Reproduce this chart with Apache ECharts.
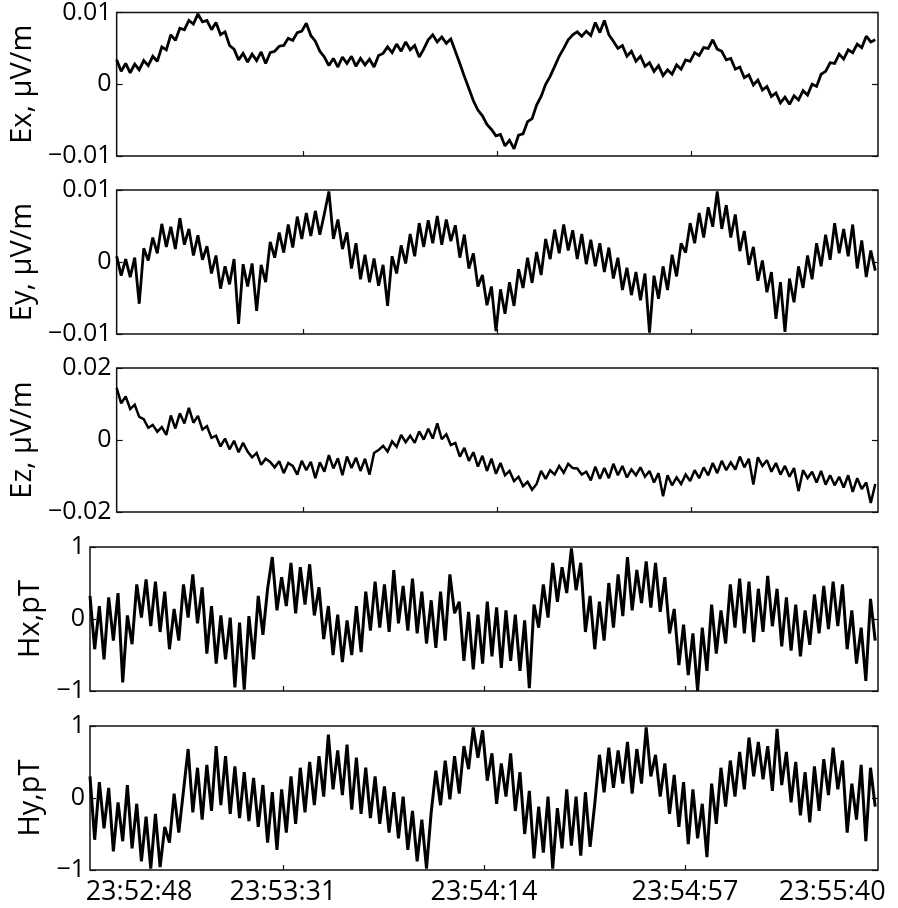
<!DOCTYPE html>
<html>
<head>
<meta charset="utf-8">
<script src="https://cdn.jsdelivr.net/npm/echarts@6/dist/echarts.min.js"></script>
<style>
  html, body { margin: 0; padding: 0; background: #fff; }
  #chart { width: 898px; height: 908px; }
</style>
</head>
<body>
<div id="chart"></div>
<script>
// time in seconds from the left edge of the plot, one sample per second
var tickPos = [41.3, 84.3, 127.3];
var labelPos = [10.5, 41.3, 84.3, 127.3, 158.8];
var tickLabels = ["23:52:48", "23:53:31", "23:54:14", "23:54:57", "23:55:40"];

// Ex, Ey, Ez in units of 0.001 uV/m
var exMilli = [3.4,1.8,2.9,1.6,2.8,2.0,3.3,2.6,3.9,3.2,
  5.2,4.8,6.9,6.1,7.8,7.6,8.9,8.4,9.8,8.7,
  8.9,7.6,8.6,6.9,7.3,5.4,4.9,3.4,4.3,3.1,
  4.2,3.3,4.5,2.9,4.4,4.6,5.3,5.4,6.4,6.1,
  7.2,7.4,8.5,6.8,6.0,4.6,3.8,2.6,3.6,2.4,
  3.8,2.9,3.9,2.5,3.6,2.7,3.5,2.4,4.0,4.3,
  5.2,4.4,5.6,4.6,5.9,4.8,5.4,3.8,4.9,6.2,
  6.9,5.9,6.6,5.7,6.3,4.6,2.9,1.1,-0.6,-2.3,
  -3.6,-4.4,-5.6,-6.3,-7.2,-7.0,-8.6,-7.8,-9.0,-7.1,
  -6.9,-5.2,-4.8,-2.9,-1.7,0.0,1.1,2.5,3.9,5.0,
  6.2,6.9,7.3,6.7,7.4,6.8,8.6,7.2,8.9,6.9,
  6.0,5.0,5.4,3.9,4.6,3.2,3.9,2.5,3.0,1.8,
  2.6,1.2,2.0,1.4,2.7,2.1,3.4,3.2,4.4,4.0,
  5.1,5.0,6.2,4.9,4.6,3.4,3.6,2.1,2.4,0.9,
  1.3,-0.1,0.6,-0.8,-0.3,-1.7,-1.2,-2.6,-1.8,-2.8,
  -1.6,-2.2,-0.9,-1.5,0.0,-0.3,1.4,1.8,3.0,2.9,
  4.2,3.5,4.8,4.4,5.6,5.1,6.7,5.9,6.2];

var eyMilli = [0.8,-1.9,0.4,-2.1,0.6,-5.8,1.9,0.2,3.4,1.2,
  5.3,2.1,4.9,1.8,6.1,2.4,4.6,0.9,3.7,0.3,
  2.2,-1.6,0.9,-3.7,-0.6,-3.1,0.4,-8.6,-0.3,-3.4,
  -0.2,-6.8,-0.4,-2.8,2.8,0.6,4.1,1.3,5.2,2.0,
  6.3,3.2,6.8,3.6,7.1,3.8,6.7,9.8,3.2,5.9,
  1.8,4.1,-0.9,2.6,-2.4,1.0,-2.8,0.5,-3.3,-0.4,
  -6.1,0.8,-1.6,2.3,-0.2,3.9,0.8,5.4,2.1,5.8,
  2.6,6.4,2.4,5.9,2.9,5.1,0.6,3.8,-0.9,1.2,
  -3.4,-1.8,-6.0,-3.4,-9.6,-3.8,-7.2,-2.8,-6.1,-1.0,
  -3.6,0.6,-2.9,1.4,-1.8,3.2,0.4,4.5,1.2,5.2,
  1.6,4.4,0.4,3.9,-0.3,3.1,-0.6,2.6,-1.4,2.0,
  -2.3,0.6,-3.9,-0.8,-4.6,-1.4,-5.3,-1.6,-9.8,-1.9,
  -5.1,-0.6,-3.9,1.0,-2.0,2.6,1.3,5.4,2.6,6.8,
  3.4,7.6,4.9,9.8,4.6,7.9,3.4,6.6,1.5,4.3,
  -0.4,2.1,-2.6,0.2,-4.2,-1.4,-7.9,-2.8,-9.7,-2.3,
  -5.6,-0.6,-3.6,0.9,-2.4,2.6,-0.6,3.8,0.3,5.4,
  1.2,4.6,0.8,5.2,-0.9,3.0,-2.1,1.6,-1.2];

var ezMilli = [14.5,10.2,12.1,8.6,9.8,6.4,5.8,3.4,4.2,2.3,
  3.6,1.4,6.8,3.2,7.4,4.6,8.9,4.8,6.7,2.9,
  3.8,0.6,1.2,-1.8,0.4,-2.6,-0.2,-3.4,-0.8,-3.2,
  -4.8,-3.6,-6.9,-5.2,-6.1,-7.6,-5.9,-9.2,-6.4,-7.2,
  -9.6,-5.8,-8.4,-6.1,-10.6,-6.2,-8.8,-4.2,-7.9,-5.1,
  -9.8,-4.6,-7.8,-4.9,-8.6,-5.2,-9.6,-3.6,-2.8,-1.6,
  -3.2,-0.4,-1.9,1.4,-0.6,1.2,-0.8,2.4,0.1,3.1,
  0.4,4.6,0.2,1.6,-1.4,-0.8,-4.6,-2.2,-5.8,-3.4,
  -7.4,-4.4,-8.6,-5.2,-9.4,-6.4,-9.8,-8.6,-11.4,-10.2,
  -12.8,-11.6,-13.8,-12.2,-8.6,-10.8,-8.4,-9.6,-7.2,-9.1,
  -6.6,-7.8,-7.9,-9.6,-8.8,-11.2,-7.4,-10.8,-7.8,-10.6,
  -6.6,-9.8,-7.2,-10.4,-8.2,-9.8,-7.6,-10.2,-8.6,-11.8,
  -9.2,-15.6,-9.8,-12.6,-10.4,-12.2,-9.6,-11.4,-8.4,-10.6,
  -7.6,-9.8,-6.4,-9.2,-5.8,-8.4,-6.2,-8.2,-4.6,-7.6,
  -5.2,-12.4,-4.8,-7.2,-5.6,-8.8,-6.4,-9.6,-7.2,-10.2,
  -7.8,-14.2,-8.4,-10.6,-8.8,-11.8,-8.6,-12.4,-9.8,-12.6,
  -10.2,-13.2,-9.8,-14.4,-10.6,-13.6,-11.8,-17.5,-12.2];

// Hx, Hy in pT
var hx = [0.32,-0.42,0.18,-0.56,0.3,-0.3,0.36,-0.88,0.05,-0.35,
  0.48,0.02,0.55,-0.1,0.52,-0.18,0.38,-0.42,0.14,-0.3,
  0.48,0.02,0.62,-0.06,0.44,-0.48,0.18,-0.62,0.05,-0.56,
  0.02,-0.95,-0.05,-0.98,0.04,-0.56,0.32,-0.22,0.42,0.86,
  0.12,0.58,0.18,0.78,0.08,0.72,0.2,0.76,0.05,0.44,
  -0.28,0.18,-0.5,0.06,-0.6,-0.02,-0.5,0.18,-0.46,0.38,
  -0.16,0.52,-0.12,0.48,-0.18,0.68,-0.06,0.46,-0.16,0.56,
  -0.2,0.38,-0.34,0.26,-0.4,0.38,-0.3,0.62,0.08,0.24,
  -0.58,0.1,-0.7,0.06,-0.62,0.24,-0.52,0.16,-0.68,0.12,
  -0.58,0.06,-0.72,-0.02,-0.96,0.2,-0.12,0.48,0.02,0.78,
  0.24,0.72,0.36,0.98,0.4,0.78,-0.18,0.32,-0.42,0.24,
  -0.3,0.5,-0.12,0.62,0.04,0.86,0.12,0.68,0.22,0.8,
  0.16,0.78,0.1,0.58,-0.2,0.14,-0.64,-0.08,-0.78,-0.2,
  -1.0,-0.12,-0.72,0.2,-0.48,0.12,-0.34,0.48,-0.12,0.56,
  -0.2,0.52,-0.32,0.42,-0.18,0.6,-0.1,0.42,-0.38,0.3,
  -0.44,0.2,-0.52,0.12,-0.36,0.34,-0.2,0.46,-0.14,0.52,
  -0.1,0.48,-0.42,0.12,-0.62,-0.12,-0.86,0.28,-0.3];

var hy = [0.3,-0.58,0.22,-0.42,0.14,-0.74,-0.06,-0.6,0.18,-0.7,
  -0.08,-0.88,-0.26,-0.98,-0.22,-0.96,-0.4,-0.62,0.06,-0.48,
  0.1,0.68,-0.2,0.42,-0.3,0.46,-0.18,0.72,-0.1,0.58,
  -0.22,0.44,-0.28,0.36,-0.32,0.28,-0.4,0.18,-0.62,0.08,
  -0.72,0.12,-0.48,0.3,-0.36,0.42,-0.2,0.5,-0.1,0.58,
  0.02,0.88,0.12,0.66,0.04,0.74,-0.16,0.56,-0.22,0.42,
  -0.28,0.3,-0.36,0.16,-0.48,0.08,-0.56,0.02,-0.72,-0.18,
  -0.88,-0.3,-0.98,-0.2,0.38,-0.1,0.52,-0.02,0.58,0.06,
  0.72,0.4,0.98,0.56,0.94,0.24,0.62,-0.08,0.48,0.02,
  0.62,-0.18,0.36,-0.5,0.1,-0.84,-0.12,-0.76,0.02,-0.98,
  -0.14,-0.7,0.12,-0.66,0.02,-0.8,0.08,-0.68,-0.08,0.6,
  0.08,0.7,0.14,0.66,0.2,0.78,0.06,0.68,0.2,0.98,
  0.3,0.6,0.02,0.48,-0.22,0.32,-0.4,0.22,-0.64,0.12,
  -0.56,-0.08,-0.82,0.2,-0.36,0.42,-0.12,0.52,0.02,0.64,
  0.12,0.84,0.3,0.78,0.26,0.72,0.1,0.96,0.18,0.64,
  -0.06,0.5,-0.24,0.36,-0.34,0.44,-0.18,0.54,0.04,0.7,
  0.12,0.52,-0.48,0.2,-0.3,0.46,-0.6,0.42,-0.12];

var panels = [
  { name: "Ex, \u03bcV/m", values: exMilli, scale: 0.001, max: 0.01, gap: 58, lw: 2.8 },
  { name: "Ey, \u03bcV/m", values: eyMilli, scale: 0.001, max: 0.01, gap: 58, lw: 2.8 },
  { name: "Ez, \u03bcV/m", values: ezMilli, scale: 0.001, max: 0.02, gap: 58, lw: 2.5 },
  { name: "Hx,pT", values: hx, scale: 1, max: 1, gap: 43, lw: 3 },
  { name: "Hy,pT", values: hy, scale: 1, max: 1, gap: 43, lw: 3 }
];
var tops = [12, 190, 368, 547, 726];
var tEnd = 168.6;
var font = "'Open Sans', 'DejaVu Sans', sans-serif";

function fmtY(v) {
  if (Math.abs(v) < 1e-12) return "0";
  var s = String(Math.abs(+v.toFixed(4)));
  return v < 0 ? "\u2212" + s : s;
}

var grid = [], xAxis = [], yAxis = [], series = [];
panels.forEach(function (p, i) {
  var last = i === panels.length - 1;
  grid.push({ left: 90, width: 788, top: tops[i], height: 144, show: true,
    borderColor: "#111", borderWidth: 1.5, backgroundColor: "#fff" });
  xAxis.push({
    type: "value", gridIndex: i, min: 0, max: tEnd, position: "bottom",
    axisLine: { show: false, onZero: false }, splitLine: { show: false },
    axisTick: { show: true, inside: true, length: 5, customValues: tickPos,
      lineStyle: { color: "#111", width: 1.2 } },
    axisLabel: { show: last, customValues: labelPos, margin: 9,
      color: "#000", fontSize: 27, fontFamily: font,
      formatter: function (v) { return tickLabels[labelPos.indexOf(v)]; } }
  });
  [0, 1].forEach(function (side) {
    yAxis.push({
      type: "value", gridIndex: i, position: side ? "right" : "left",
      min: -p.max, max: p.max, interval: p.max,
      name: side ? "" : p.name, nameLocation: "middle", nameGap: p.gap,
      nameTextStyle: { color: "#000", fontSize: 29, fontFamily: font },
      axisLine: { show: false, onZero: false }, splitLine: { show: false },
      axisTick: { show: true, inside: true, length: 6,
        lineStyle: { color: "#111", width: 1.2 } },
      axisLabel: { show: !side, margin: 5, color: "#000", fontSize: 25,
        fontFamily: font, formatter: fmtY }
    });
  });
  series.push({
    type: "line", xAxisIndex: i, yAxisIndex: i * 2,
    data: p.values.map(function (v, t) { return [t, v * p.scale]; }),
    showSymbol: false, silent: true, animation: false,
    lineStyle: { color: "#000", width: p.lw, join: "miter", miterLimit: 2 }
  });
});

var myChart = echarts.init(document.getElementById("chart"));
myChart.setOption({
  animation: false,
  grid: grid, xAxis: xAxis, yAxis: yAxis, series: series
});
</script>
</body>
</html>
